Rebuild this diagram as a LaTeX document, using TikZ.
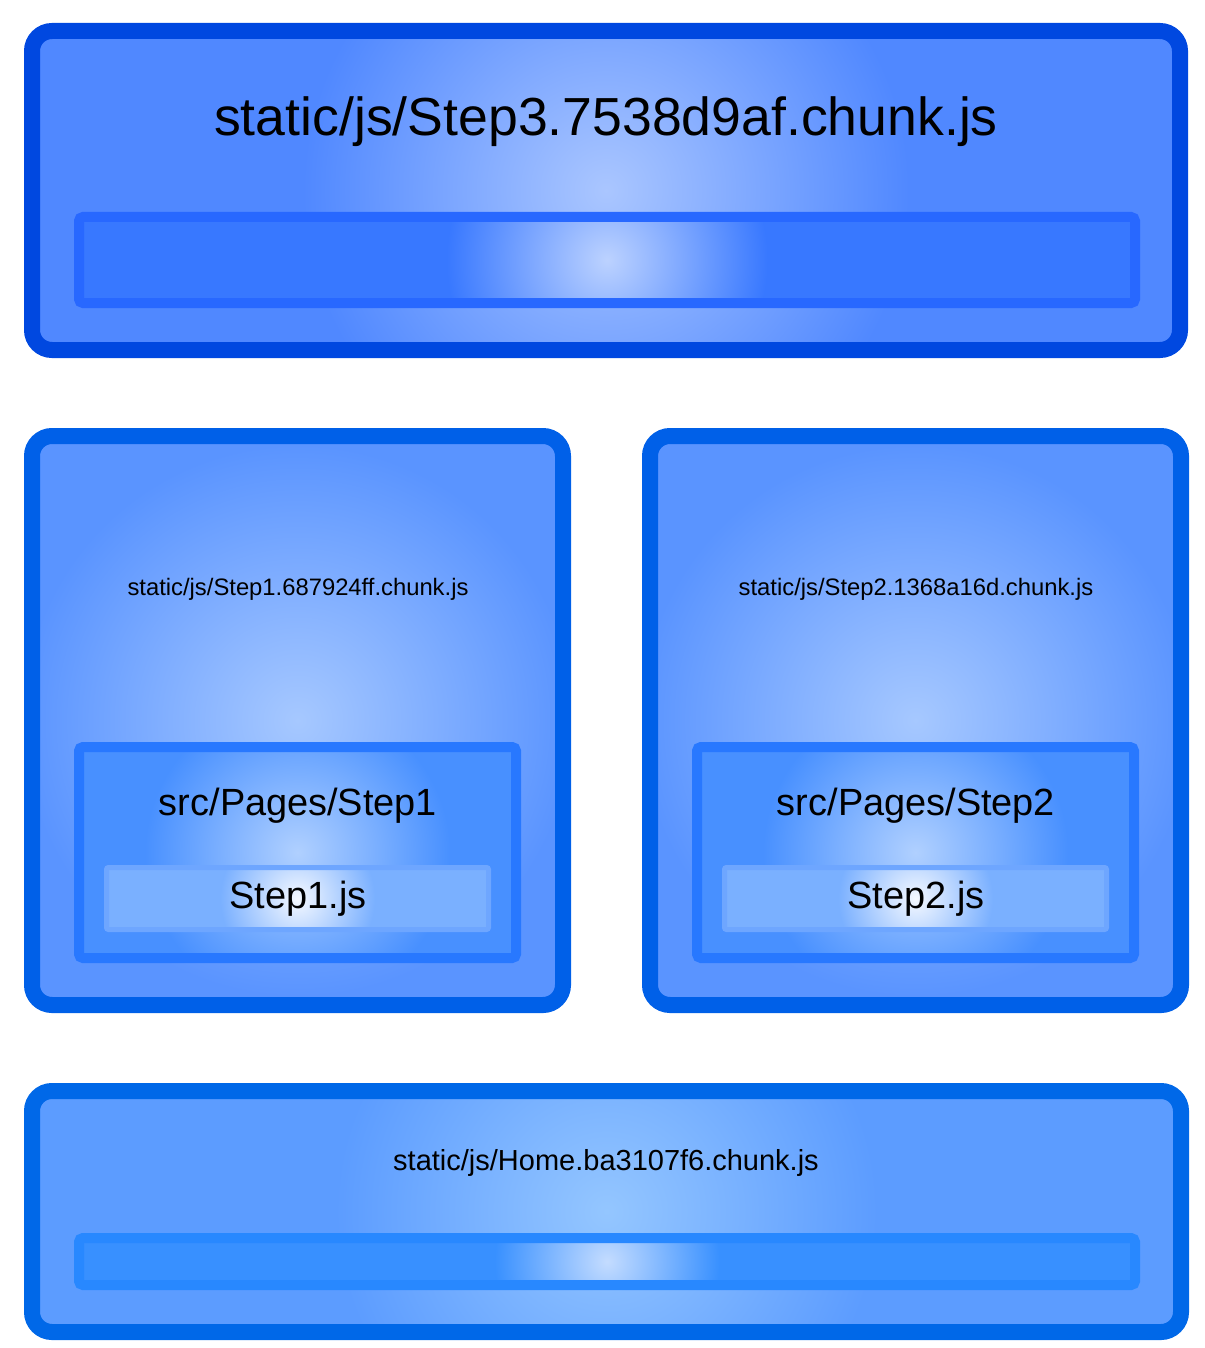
\documentclass[tikz,border=0pt]{standalone}
\usepackage{fontspec}
\setmainfont{Liberation Sans}
\definecolor{topborder}{HTML}{0048E0}
\definecolor{topfill}{HTML}{5088FF}
\definecolor{topin}{HTML}{AAC6FF}
\definecolor{barborder}{HTML}{2868FF}
\definecolor{barfill}{HTML}{3878FF}
\definecolor{barin}{HTML}{BCD2FF}
\definecolor{midborder}{HTML}{0060E8}
\definecolor{midfill}{HTML}{5A94FF}
\definecolor{midin}{HTML}{A6C8FF}
\definecolor{srcborder}{HTML}{2878FF}
\definecolor{srcfill}{HTML}{4890FF}
\definecolor{srcin}{HTML}{B0D0FF}
\definecolor{fileborder}{HTML}{6EA6FF}
\definecolor{filefill}{HTML}{7AB0FF}
\definecolor{filein}{HTML}{F4F8FF}
\definecolor{botborder}{HTML}{0068E8}
\definecolor{botfill}{HTML}{5C9CFF}
\definecolor{botin}{HTML}{94C6FF}
\definecolor{bbarborder}{HTML}{2888FF}
\definecolor{bbarfill}{HTML}{3890FF}
\definecolor{bbarin}{HTML}{C4DCFF}
\pgfdeclareradialshading{topsh}{\pgfpointorigin}{color(0bp)=(topin); color(25bp)=(topfill); color(50bp)=(topfill)}
\pgfdeclareradialshading{barsh}{\pgfpointorigin}{color(0bp)=(barin); color(25bp)=(barfill); color(50bp)=(barfill)}
\pgfdeclareradialshading{midsh}{\pgfpointorigin}{color(0bp)=(midin); color(25bp)=(midfill); color(50bp)=(midfill)}
\pgfdeclareradialshading{srcsh}{\pgfpointorigin}{color(0bp)=(srcin); color(25bp)=(srcfill); color(50bp)=(srcfill)}
\pgfdeclareradialshading{filesh}{\pgfpointorigin}{color(0bp)=(filein); color(25bp)=(filefill); color(50bp)=(filefill)}
\pgfdeclareradialshading{botsh}{\pgfpointorigin}{color(0bp)=(botin); color(25bp)=(botfill); color(50bp)=(botfill)}
\pgfdeclareradialshading{bbarsh}{\pgfpointorigin}{color(0bp)=(bbarin); color(25bp)=(bbarfill); color(50bp)=(bbarfill)}
\tikzset{
  chunkbox/.style={rectangle, line width=16pt, rounded corners=20pt, inner sep=0pt},
  modbox/.style={rectangle, line width=10pt, rounded corners=4pt, inner sep=0pt},
  filebox/.style={rectangle, line width=5pt, rounded corners=2pt, inner sep=0pt},
  glow/.style 2 args={path picture={\begin{pgfscope}\pgftransformshift{\pgfpointanchor{path picture bounding box}{center}}\pgftransformscale{#2}\pgflowlevelsynccm\pgfuseshading{#1}\end{pgfscope}}},
  lbl/.style={inner sep=0pt, text=black}
}
\begin{document}
\begin{tikzpicture}[x=1pt,y=-1pt]
\useasboundingbox (0,0) rectangle (1204,1348);
% top chunk
\node[chunkbox, draw=topborder, fill=topfill, glow={topsh}{12.08}, minimum width=1148pt, minimum height=319pt] (top) at (606,190.5) {};
\node[modbox, draw=barborder, fill=barfill, glow={barsh}{6.4}, minimum width=1056pt, minimum height=86pt] (topbar) at (607,260) {};
\node[lbl, font=\fontsize{53.6}{60}\selectfont] (toplbl) at (606,122) {static/js/Step3.7538d9af.chunk.js};
% left chunk
\node[chunkbox, draw=midborder, fill=midfill, glow={midsh}{11}, minimum width=531pt, minimum height=569pt] (left) at (297.5,720.5) {};
\node[modbox, draw=srcborder, fill=srcfill, glow={srcsh}{6.08}, minimum width=437pt, minimum height=211pt] (leftsrc) at (297.5,852.5) {};
\node[filebox, draw=fileborder, fill=filefill, glow={filesh}{3.08}, minimum width=382pt, minimum height=62pt] (leftfile) at (297.5,898.5) {};
\node[lbl, font=\fontsize{23.8}{28}\selectfont] (leftlbl) at (298,589) {static/js/Step1.687924ff.chunk.js};
\node[lbl, font=\fontsize{37.9}{44}\selectfont] (leftsrclbl) at (298,806) {src/Pages/Step1};
\node[lbl, font=\fontsize{37.9}{44}\selectfont] (leftfilelbl) at (298,899) {Step1.js};
% right chunk
\node[chunkbox, draw=midborder, fill=midfill, glow={midsh}{11}, minimum width=531pt, minimum height=569pt] (right) at (915.5,720.5) {};
\node[modbox, draw=srcborder, fill=srcfill, glow={srcsh}{6.08}, minimum width=437pt, minimum height=211pt] (rightsrc) at (915.5,852.5) {};
\node[filebox, draw=fileborder, fill=filefill, glow={filesh}{3.08}, minimum width=382pt, minimum height=62pt] (rightfile) at (915.5,898.5) {};
\node[lbl, font=\fontsize{23.8}{28}\selectfont] (rightlbl) at (916,589) {static/js/Step2.1368a16d.chunk.js};
\node[lbl, font=\fontsize{37.9}{44}\selectfont] (rightsrclbl) at (916,806) {src/Pages/Step2};
\node[lbl, font=\fontsize{37.9}{44}\selectfont] (rightfilelbl) at (916,899) {Step2.js};
% bottom chunk
\node[chunkbox, draw=botborder, fill=botfill, glow={botsh}{10.8}, minimum width=1149pt, minimum height=241pt] (bot) at (606.5,1211.5) {};
\node[modbox, draw=bbarborder, fill=bbarfill, glow={bbarsh}{4.48}, minimum width=1056pt, minimum height=47pt] (botbar) at (607,1261.5) {};
\node[lbl, font=\fontsize{29}{34}\selectfont] (botlbl) at (606,1163) {static/js/Home.ba3107f6.chunk.js};
\end{tikzpicture}
\end{document}
